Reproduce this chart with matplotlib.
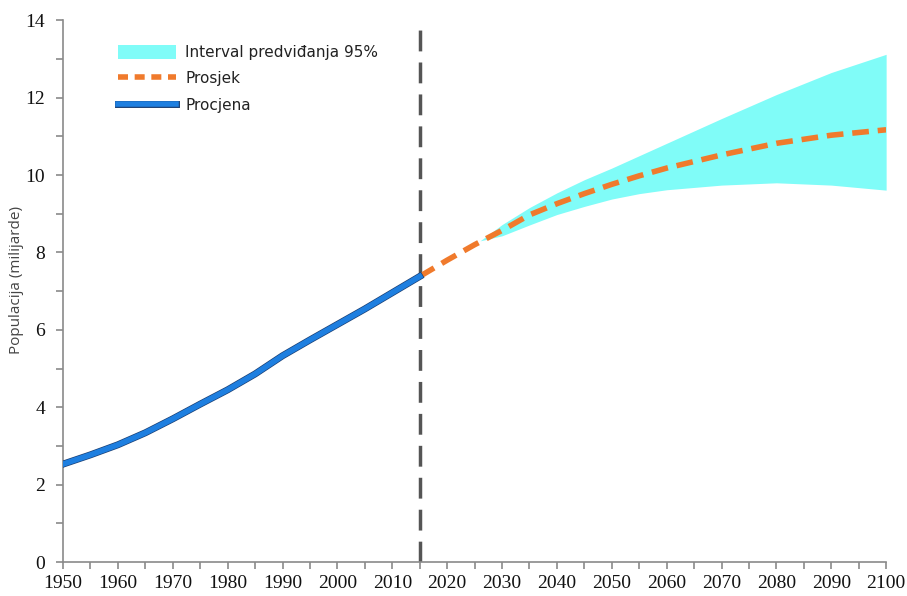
import matplotlib
matplotlib.use("Agg")
import matplotlib.pyplot as plt
import matplotlib.patheffects as pe
from matplotlib.ticker import MultipleLocator
from matplotlib.lines import Line2D
from matplotlib.patches import Patch

# Estimated population (billions)
est_years = [1950, 1955, 1960, 1965, 1970, 1975, 1980, 1985, 1990, 1995, 2000, 2005, 2010, 2015]
est_vals = [2.53, 2.77, 3.03, 3.34, 3.70, 4.08, 4.45, 4.86, 5.33, 5.74, 6.14, 6.54, 6.96, 7.38]

proj_years = [2015, 2020, 2025, 2030, 2035, 2040, 2045, 2050, 2055, 2060, 2070, 2080, 2090, 2100]
proj_mean = [7.38, 7.80, 8.20, 8.57, 8.97, 9.26, 9.52, 9.76, 9.98, 10.18, 10.52, 10.82, 11.03, 11.17]

band_years = [2026, 2030, 2035, 2040, 2045, 2050, 2055, 2060, 2070, 2080, 2090, 2100]
band_low = [8.30, 8.43, 8.71, 8.98, 9.19, 9.38, 9.52, 9.62, 9.74, 9.80, 9.74, 9.61]
band_high = [8.30, 8.72, 9.16, 9.54, 9.88, 10.18, 10.50, 10.82, 11.46, 12.08, 12.65, 13.12]

divider_year = 2015

xticks = list(range(1950, 2101, 10))
yticks = list(range(0, 15, 2))

plt.rcParams["font.family"] = ["Liberation Serif"]

fig = plt.figure(figsize=(9.07, 5.96), dpi=100)
ax = fig.add_axes([0.0695, 0.057, 0.9075, 0.909])

ax.fill_between(band_years, band_low, band_high, color="#80fcf8", linewidth=0, zorder=1)
ax.plot(proj_years, proj_mean, color="#f07a2c", lw=4, dashes=(3, 1.6), zorder=3,
        solid_capstyle="butt", dash_capstyle="butt")
ax.plot(est_years, est_vals, color="#1e7fe0", lw=4, zorder=4,
        path_effects=[pe.Stroke(linewidth=5.0, foreground="#1b3f73"), pe.Normal()])
ax.plot([divider_year, divider_year], [0, 13.75], color="#555555", lw=2.5,
        dashes=(6, 3.2), zorder=2)

ax.set_xlim(1950, 2100)
ax.set_ylim(0, 14)
ax.set_xticks(xticks)
ax.set_yticks(yticks)
ax.xaxis.set_minor_locator(MultipleLocator(5))
ax.yaxis.set_minor_locator(MultipleLocator(1))
for s in ["top", "right"]:
    ax.spines[s].set_visible(False)
for s in ["left", "bottom"]:
    ax.spines[s].set_color("#8a8a8a")
    ax.spines[s].set_linewidth(1.2)
ax.tick_params(which="both", color="#8a8a8a", width=1.2, direction="out", length=5,
               labelsize=14, labelcolor="#111111")
ax.tick_params(axis="x", pad=4)
ax.tick_params(axis="y", pad=8)

ax.set_ylabel("Populacija (milijarde)", fontfamily="Open Sans", fontsize=11, color="#444444")
ax.yaxis.set_label_coords(-0.047, 0.52)

handles = [
    Patch(facecolor="#80fcf8", edgecolor="none"),
    Line2D([0], [0], color="#f07a2c", lw=4, dashes=(1.8, 1.2)),
    Line2D([0], [0], color="#1e7fe0", lw=4,
           path_effects=[pe.Stroke(linewidth=5.0, foreground="#1b3f73"), pe.Normal()]),
]
labels = ["Interval predviđanja 95%", "Prosjek", "Procjena"]
leg = ax.legend(handles, labels, loc="upper left", bbox_to_anchor=(0.05, 0.98), frameon=False,
                handlelength=3.8, handleheight=1.0, labelspacing=0.75,
                handletextpad=0.6, prop={"family": "DejaVu Sans", "size": 11})
for t in leg.get_texts():
    t.set_color("#222222")

fig.savefig("out.png", dpi=100)
